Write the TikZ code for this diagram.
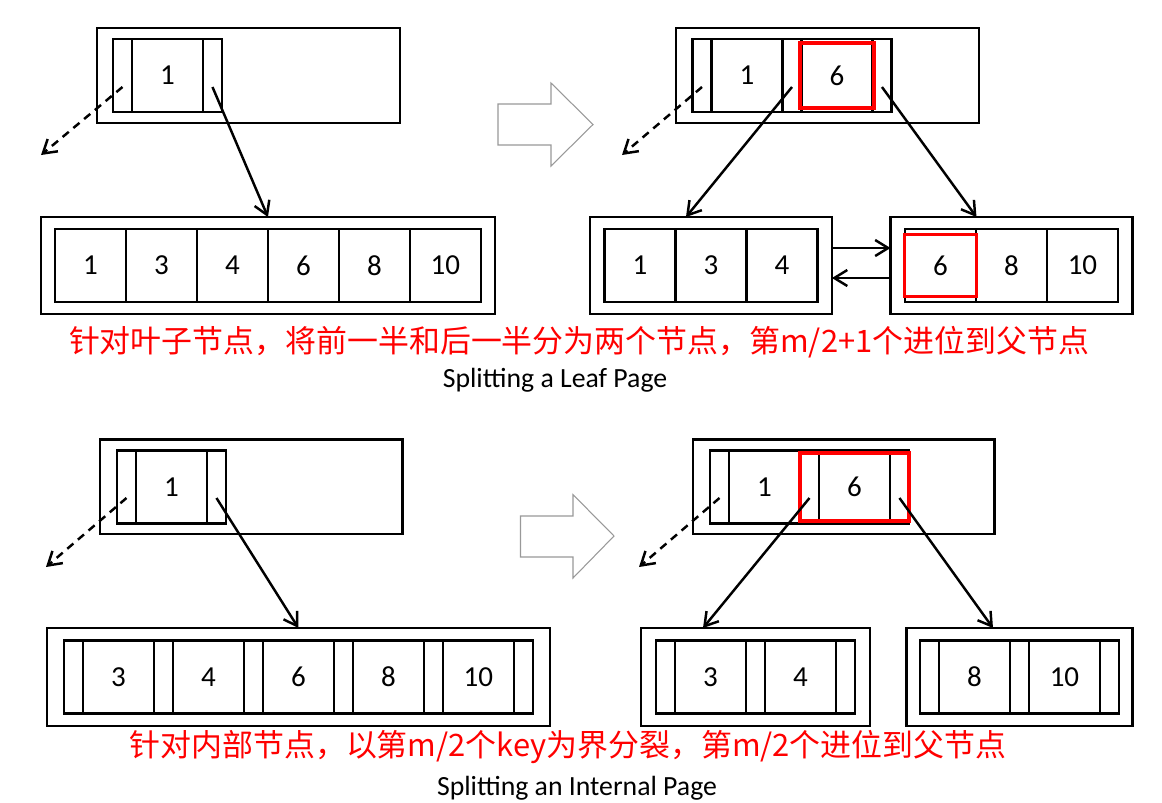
\documentclass[tikz,border=0pt]{standalone}
\usepackage{fontspec}
\setmainfont{Carlito}
\newfontfamily\cjk{Noto Sans CJK SC}
\usetikzlibrary{positioning,fit,calc,arrows.meta}

\begin{document}
\begin{tikzpicture}[x=0.02cm, y=-0.02cm,
                every node/.append style={font=\fontsize{16.5}{19}\selectfont},
                cell/.style={draw, line width=1.4pt, inner sep=0pt, outer sep=0pt, minimum height=1.46cm},
                ptrcell/.style={cell, minimum width=0.38cm},
                keycell/.style={cell, minimum width=1.42cm},
                pagebox/.style={draw, line width=1.4pt, inner sep=0pt, outer sep=0pt},
                hilite/.style={draw=red, line width=2pt, inner sep=0pt, outer sep=0pt},
                child/.style={line width=1.4pt, -{Straight Barb[length=2.6mm,width=3.2mm]}},
                nilptr/.style={child, dash pattern=on 1.6mm off 1.2mm},
                bigarrow/.style={draw=gray!80, line width=0.6pt},
                redtext/.style={text=red, font=\cjk\fontsize{17.6}{21}\selectfont},
                caption/.style={font=\fontsize{15.8}{19}\selectfont}]
                \useasboundingbox[fill=white] (0,0) rectangle (1162,802);
                \begin{scope}
                \node[pagebox, minimum width=6.06cm, minimum height=1.9cm] (roota) at (248.5,75.5) {};
                \node[ptrcell, anchor=west] (pa0) at (113,75.5) {};
                \node[keycell, right=0pt of pa0] (ka1) {1};
                \node[ptrcell, right=0pt of ka1] (pa1) {};
                \node[keycell, anchor=west] (la1) at (55,265.5) {1};
                \node[keycell, right=0pt of la1] (la3) {3};
                \node[keycell, right=0pt of la3] (la4) {4};
                \node[keycell, right=0pt of la4] (la6) {6};
                \node[keycell, right=0pt of la6] (la8) {8};
                \node[keycell, right=0pt of la8] (la10) {10};
                \node[pagebox, fit=(la1)(la10), inner xsep=0.28cm, inner ysep=0.24cm] (leafa) {};
                \coordinate (nila) at (41,155);
                \draw[nilptr] ([yshift=-0.23cm]pa0.center) -- (nila);
                \draw[child] ([yshift=-0.23cm]pa1.center) -- (leafa.north);
                \end{scope}
                \draw[bigarrow] (498,104) -- (551,104) -- (551,83) -- (593,124.5) -- (551,166) -- (551,145) -- (498,145) -- cycle;
                \begin{scope}
                \node[pagebox, minimum width=6.06cm, minimum height=1.9cm] (rootb) at (827.5,75.5) {};
                \node[ptrcell, anchor=west] (pb0) at (692.5,75.5) {};
                \node[keycell, right=0pt of pb0] (kb1) {1};
                \node[ptrcell, right=0pt of kb1] (pb1) {};
                \node[keycell, right=0pt of pb1] (kb6) {6};
                \node[ptrcell, right=0pt of kb6] (pb2) {};
                \node[hilite, fit=(kb6), inner xsep=0.03cm, inner ysep=-0.08cm] (hlb) {};
                \node[keycell, anchor=west] (lb1) at (604.5,265.5) {1};
                \node[keycell, right=0pt of lb1] (lb3) {3};
                \node[keycell, right=0pt of lb3] (lb4) {4};
                \node[pagebox, fit=(lb1)(lb4), inner xsep=0.29cm, inner ysep=0.24cm] (leafbl) {};
                \node[keycell, anchor=west] (rb6) at (905,265.5) {6};
                \node[keycell, right=0pt of rb6] (rb8) {8};
                \node[keycell, right=0pt of rb8] (rb10) {10};
                \node[pagebox, fit=(rb6)(rb10), inner xsep=0.29cm, inner ysep=0.24cm] (leafbr) {};
                \node[hilite, fit=(rb6), inner xsep=0.01cm, inner ysep=-0.11cm] (hlrb) {};
                \coordinate (nilb) at (622,155);
                \draw[nilptr] ([yshift=-0.23cm]pb0.center) -- (nilb);
                \draw[child] ([yshift=-0.23cm]pb1.center) -- ([xshift=-0.5cm]leafbl.north);
                \draw[child] ([yshift=-0.23cm]pb2.center) -- ([xshift=-0.7cm]leafbr.north);
                \draw[child] ([yshift=0.35cm]leafbl.east) -- ([yshift=0.35cm]leafbr.west);
                \draw[child] ([yshift=-0.25cm]leafbr.west) -- ([yshift=-0.25cm]leafbl.east);
                \end{scope}
                \node[redtext] (notea) at (579,342) {针对叶子节点，将前一半和后一半分为两个节点，第m/2+1个进位到父节点};
                \node[caption] (capa) at (555,380) {Splitting a Leaf Page};
                \begin{scope}
                \node[pagebox, minimum width=6.05cm, minimum height=1.89cm] (rootc) at (251.25,486.75) {};
                \node[ptrcell, anchor=west] (pc0) at (117,487) {};
                \node[keycell, right=0pt of pc0] (kc1) {1};
                \node[ptrcell, right=0pt of kc1] (pc1) {};
                \node[ptrcell, anchor=west] (qc0) at (64,677) {};
                \node[keycell, right=0pt of qc0] (lc3) {3};
                \node[ptrcell, right=0pt of lc3] (qc1) {};
                \node[keycell, right=0pt of qc1] (lc4) {4};
                \node[ptrcell, right=0pt of lc4] (qc2) {};
                \node[keycell, right=0pt of qc2] (lc6) {6};
                \node[ptrcell, right=0pt of lc6] (qc3) {};
                \node[keycell, right=0pt of qc3] (lc8) {8};
                \node[ptrcell, right=0pt of lc8] (qc4) {};
                \node[keycell, right=0pt of qc4] (lc10) {10};
                \node[ptrcell, right=0pt of lc10] (qc5) {};
                \node[pagebox, fit=(qc0)(qc5), inner xsep=0.34cm, inner ysep=0.25cm] (leafc) {};
                \coordinate (nilc) at (46,567);
                \draw[nilptr] ([yshift=-0.22cm]pc0.center) -- (nilc);
                \draw[child] ([yshift=-0.22cm]pc1.center) -- (leafc.north);
                \end{scope}
                \draw[bigarrow] (520.5,516) -- (573,516) -- (573,494.6) -- (614,536) -- (573,578) -- (573,557) -- (520.5,557) -- cycle;
                \begin{scope}
                \node[pagebox, minimum width=6.03cm, minimum height=1.89cm] (rootd) at (843.8,486.75) {};
                \node[ptrcell, anchor=west] (pd0) at (710,487) {};
                \node[keycell, right=0pt of pd0] (kd1) {1};
                \node[ptrcell, right=0pt of kd1] (pd1) {};
                \node[keycell, right=0pt of pd1] (kd6) {6};
                \node[ptrcell, right=0pt of kd6] (pd2) {};
                \node[hilite, fit=(pd1)(pd2), inner xsep=0cm, inner ysep=-0.05cm] (hld) {};
                \node[ptrcell, anchor=west] (qd0) at (656,677) {};
                \node[keycell, right=0pt of qd0] (ld3) {3};
                \node[ptrcell, right=0pt of ld3] (qd1) {};
                \node[keycell, right=0pt of qd1] (ld4) {4};
                \node[ptrcell, right=0pt of ld4] (qd2) {};
                \node[pagebox, fit=(qd0)(qd2), inner xsep=0.3cm, inner ysep=0.25cm] (leafdl) {};
                \node[ptrcell, anchor=west] (qe0) at (920,677) {};
                \node[keycell, right=0pt of qe0] (le8) {8};
                \node[ptrcell, right=0pt of le8] (qe1) {};
                \node[keycell, right=0pt of qe1] (le10) {10};
                \node[ptrcell, right=0pt of le10] (qe2) {};
                \node[pagebox, fit=(qe0)(qe2), inner xsep=0.27cm, inner ysep=0.25cm] (leafdr) {};
                \coordinate (nild) at (639,567);
                \draw[nilptr] ([yshift=-0.22cm]pd0.center) -- (nild);
                \draw[child] ([yshift=-0.22cm]pd1.center) -- ([xshift=-1.05cm]leafdl.north);
                \draw[child] ([yshift=-0.22cm]pd2.center) -- ([xshift=-0.53cm]leafdr.north);
                \end{scope}
                \node[redtext] (notec) at (568,747) {针对内部节点，以第m/2个key为界分裂，第m/2个进位到父节点};
                \node[caption] (capc) at (577,788) {Splitting an Internal Page};
\end{tikzpicture}
\end{document}
